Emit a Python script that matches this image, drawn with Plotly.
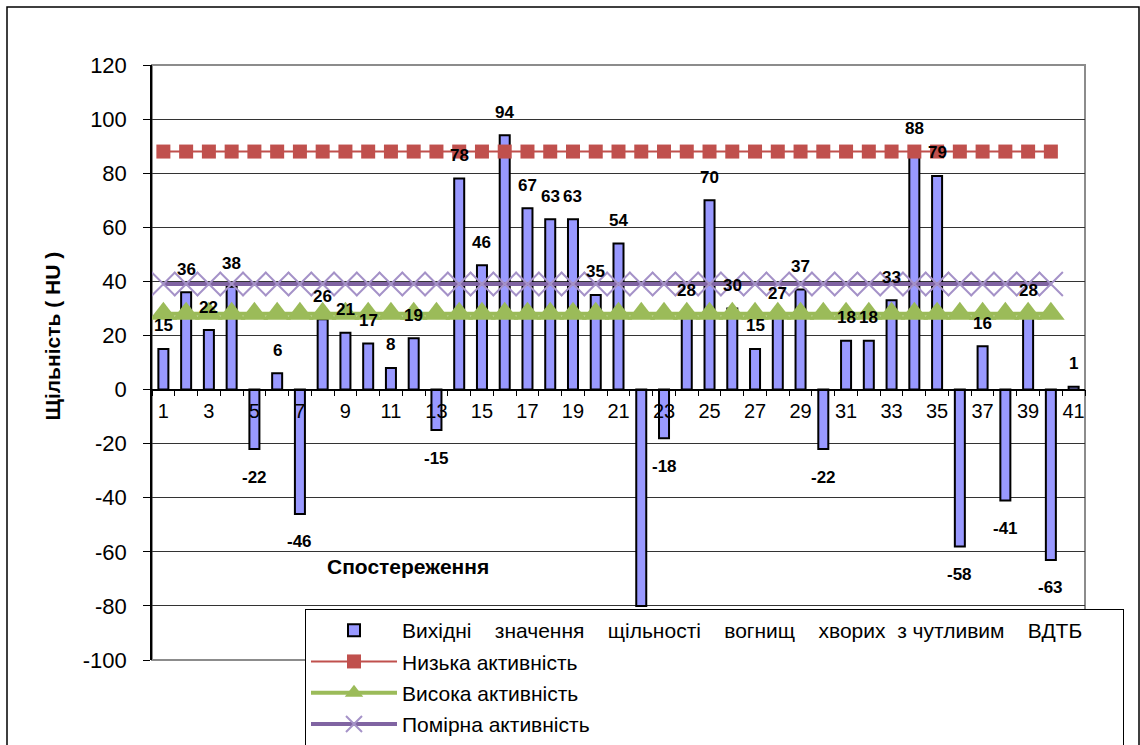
import plotly.graph_objects as go

# Observation numbers and measured focus densities (HU)
observations = list(range(1, 42))
density = [15, 36, 22, 38, -22, 6, -46, 26, 21, 17, 8, 19, -15, 78, 46, 94, 67, 63, 63, 35,
           54, -80, -18, 28, 70, 30, 15, 27, 37, -22, 18, 18, 33, 88, 79, -58, 16, -41, 28, -63, 1]

# Reference activity levels, drawn across observations 1..40
level_obs = list(range(1, 41))
low_level = 88
high_level = 28
moderate_level = 39

nb = "\u00a0"
bar_name = (f"Вихідні{nb*4}значення{nb*4}щільності{nb*4}вогнищ{nb*4}хворих{nb*2}з"
            f"{nb}чутливим{nb*4}ВДТБ{nb*6}")
low_name = "Низька активність"
high_name = "Висока активність"
moderate_name = "Помірна активність"

x_title = "Спостереження"
y_title = "Щільність ( HU )"

y_ticks = list(range(-100, 121, 20))
y_ticktext = [str(v) for v in y_ticks]
x_tickvals = list(range(1, 42, 2))

W, H = 1140, 745
L, R, T, B = 152, 1085, 65, 660
pw, ph = R - L, B - T


def px_x(px):
    return (px - L) / pw


def px_y(py):
    return (B - py) / ph


fig = go.Figure()

fig.add_trace(go.Bar(
    x=observations, y=density, name=bar_name, legendgroup="a",
    marker=dict(color="#9999FF", line=dict(color="black", width=2)),
))
fig.add_trace(go.Scatter(
    x=level_obs, y=[low_level] * len(level_obs), name=low_name, legendgroup="b",
    mode="lines+markers",
    line=dict(color="#C0504D", width=2),
    marker=dict(symbol="square", size=14, color="#C0504D"),
))
fig.add_trace(go.Scatter(
    x=level_obs, y=[high_level] * len(level_obs), name=high_name, legendgroup="c",
    mode="lines+markers",
    line=dict(color="#9BBB59", width=4),
    marker=dict(symbol="triangle-up", size=24, color="#9BBB59"),
))
fig.add_trace(go.Scatter(
    x=level_obs, y=[moderate_level] * len(level_obs), name=moderate_name, legendgroup="d",
    mode="lines+markers",
    line=dict(color="#8064A2", width=4),
    marker=dict(symbol="x-thin-open", size=24, color="#A592C8",
                line=dict(color="#A592C8", width=2)),
))

# Value labels above positive bars and below negative ones;
# a label that would fall under the legend box is left out
legend_top_value = -100 + 220 * (B - 611) / ph
annotations = []
for xv, v in zip(observations, density):
    if v < 0 and v - 28 * 220 / ph < legend_top_value and xv > 6:
        continue
    annotations.append(dict(
        x=xv, y=v, text=str(v), showarrow=False,
        yshift=23 if v >= 0 else -28,
        font=dict(family="Arial, Liberation Sans", size=17, color="black", weight="bold"),
    ))

annotations.append(dict(
    x=px_x(325), y=px_y(580), xref="paper", yref="paper", text=x_title, showarrow=False,
    font=dict(family="Arial, Liberation Sans", size=21, color="black", weight="bold"),
))
annotations.append(dict(
    x=px_x(38), y=px_y(336), xref="paper", yref="paper", text=y_title, showarrow=False,
    textangle=-90,
    font=dict(family="Arial, Liberation Sans", size=21, color="black", weight="bold"),
))

shapes = [
    # plot area frame
    dict(type="rect", xref="paper", yref="paper", x0=0, x1=1, y0=0, y1=1,
         line=dict(color="#8c8c8c", width=2), layer="below"),
    # outer chart frame
    dict(type="rect", xref="paper", yref="paper",
         x0=px_x(7), x1=px_x(1139), y0=px_y(760), y1=px_y(7),
         line=dict(color="black", width=1.5)),
]

fig.update_layout(
    width=W, height=H,
    margin=dict(l=L, r=W - R, t=T, b=H - B, autoexpand=False),
    paper_bgcolor="white", plot_bgcolor="white",
    bargap=0.56,
    font=dict(family="Arial, Liberation Sans", color="black"),
    showlegend=True,
    legend=dict(
        xref="container", yref="container",
        x=305 / W, y=1 - 609 / H, xanchor="left", yanchor="top",
        bgcolor="white", bordercolor="black", borderwidth=1,
        font=dict(family="Arial, Liberation Sans", size=21, color="black"),
        tracegroupgap=1, traceorder="grouped", itemwidth=86,
    ),
    annotations=annotations,
    shapes=shapes,
    xaxis=dict(
        range=[0.5, 41.5], tickmode="array", tickvals=x_tickvals,
        ticktext=[str(v) for v in x_tickvals],
        ticks="outside", ticklen=4, tickcolor="rgba(0,0,0,0)",
        minor=dict(tickmode="array", tickvals=[i + 0.5 for i in range(0, 42)],
                   ticks="outside", ticklen=6, tickcolor="black", tickwidth=1, showgrid=False),
        showline=True, linecolor="black", linewidth=1.5,
        showgrid=False, zeroline=False,
        anchor="free", position=100 / 220,
        ticklabelstandoff=0,
        tickfont=dict(family="Arial, Liberation Sans", size=20, color="black"),
    ),
    yaxis=dict(
        range=[-100, 120], tickmode="array", tickvals=y_ticks, ticktext=y_ticktext,
        ticks="outside", ticklen=7, tickcolor="black",
        showline=True, linecolor="black", linewidth=1.5,
        showgrid=True, gridcolor="#333333", gridwidth=1,
        zeroline=False,
        ticklabelstandoff=12,
        tickfont=dict(family="Arial, Liberation Sans", size=22, color="black"),
    ),
)

fig.write_html("out.html")
